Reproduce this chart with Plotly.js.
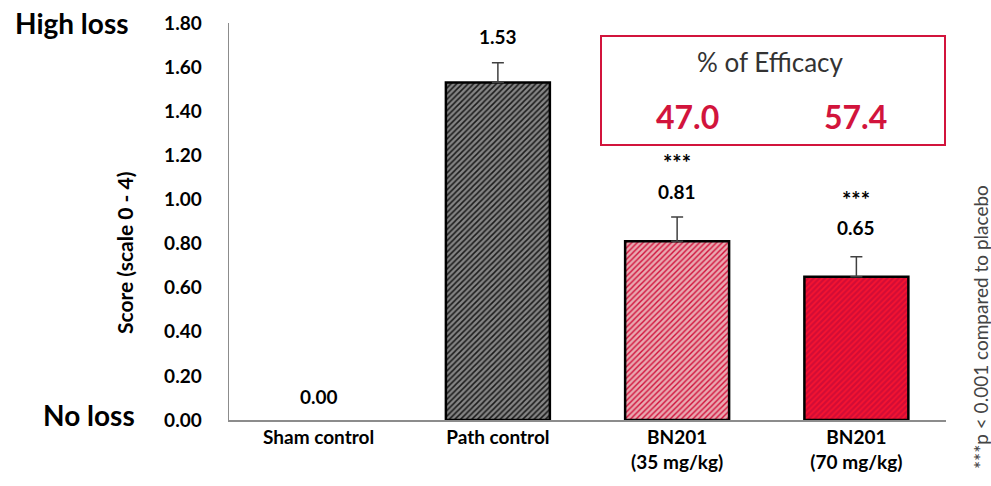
<!DOCTYPE html>
<html><head><meta charset="utf-8">
<script src="https://cdn.plot.ly/plotly-3.0.1.min.js"></script>
<style>body{margin:0;background:#fff}#c{width:991px;height:486px}</style>
</head><body><div id="c"></div>
<script>
const categories = ["Sham control", "Path control", "BN201<br>(35 mg/kg)", "BN201<br>(70 mg/kg)"];
const scores = [0.00, 1.53, 0.81, 0.65];
const errors = [0.00, 0.09, 0.11, 0.09];
const valueLabels = ["0.00", "1.53", "0.81", "0.65"];
const signif = ["", "", "***", "***"];
const efficacy = ["47.0", "57.4"];
const yTicks = [0, 0.2, 0.4, 0.6, 0.8, 1.0, 1.2, 1.4, 1.6, 1.8];
const yTitle = "Score (scale 0 - 4)";

const bgColors = ["#ffffff", "#858585", "#e9a8b0", "#d20c36"];
const fgColors = ["#000000", "#1a1a1a", "#d0103a", "#f81430"];
const solidity = [0.4, 0.38, 0.35, 0.4];
const outlineW = [0, 2.5, 2.5, 2.5];

const font = "Lato, 'Open Sans', sans-serif";

const traces = categories.map((c, i) => ({
  type: "bar",
  x: [c],
  y: [scores[i]],
  width: 0.58,
  marker: {
    color: bgColors[i],
    line: {color: "#000", width: outlineW[i]},
    pattern: {shape: "/", fillmode: "replace", bgcolor: bgColors[i], fgcolor: fgColors[i], size: 4, solidity: solidity[i]}
  },
  error_y: {type: "data", array: [errors[i]], arrayminus: [0], symmetric: false, visible: errors[i] > 0,
            color: "#404040", thickness: 1.5, width: 6},
  hoverinfo: "none"
}));

const annotations = [];
categories.forEach((c, i) => {
  const top = scores[i] + errors[i];
  annotations.push({x: c, y: top, xref: "x", yref: "y", text: "<b>" + valueLabels[i] + "</b>",
    showarrow: false, yanchor: "middle", yshift: 26 + (i === 3 ? 3 : 0) - (i === 0 ? 2 : 0),
    font: {family: font, size: 19, color: "#000"}});
  if (signif[i]) {
    annotations.push({x: c, y: top, xref: "x", yref: "y", text: "<b>" + signif[i] + "</b>",
      showarrow: false, yanchor: "middle", yshift: 55 + (i === 3 ? 2 : 0),
      font: {family: font, size: 22, color: "#000"}});
  }
});
const W = 991, H = 486, L = 229, R = 45, T = 23, B = 66;
function px(x) { return (x - L) / (W - L - R); }
function py(y) { return (H - B - y) / (H - T - B); }
const paperAnn = [
  {xp: 131, yp: 23, text: "<b>High loss</b>", size: 28},
  {xp: 137, yp: 415, text: "<b>No loss</b>", size: 28}
];
paperAnn.forEach(a => annotations.push({x: px(a.xp), y: py(a.yp), xref: "paper", yref: "paper",
  text: a.text, showarrow: false, xanchor: "right", yanchor: "middle",
  font: {family: font, size: a.size, color: "#000"}}));
annotations.push({x: px(125), y: py(253), xref: "paper", yref: "paper", text: "<b>" + yTitle + "</b>",
  showarrow: false, textangle: -90, xanchor: "center", yanchor: "middle", font: {family: font, size: 21, color: "#000"}});
annotations.push({x: px(770), y: py(62), xref: "paper", yref: "paper", text: "% of Efficacy",
  showarrow: false, xanchor: "center", yanchor: "middle", font: {family: font, size: 26, color: "#333"}});
annotations.push({x: px(687), y: py(117), xref: "paper", yref: "paper", text: "<b>" + efficacy[0] + "</b>",
  showarrow: false, xanchor: "center", yanchor: "middle", font: {family: font, size: 32, color: "#d2143c"}});
annotations.push({x: px(855), y: py(117), xref: "paper", yref: "paper", text: "<b>" + efficacy[1] + "</b>",
  showarrow: false, xanchor: "center", yanchor: "middle", font: {family: font, size: 32, color: "#d2143c"}});
annotations.push({x: px(980), y: py(327), xref: "paper", yref: "paper", text: "***p < 0.001 compared to placebo",
  showarrow: false, textangle: -90, xanchor: "center", yanchor: "middle", font: {family: font, size: 19, color: "#444"}});

const layout = {
  width: W, height: H,
  margin: {l: L, r: R, t: T, b: B},
  paper_bgcolor: "#fff", plot_bgcolor: "#fff",
  showlegend: false,
  barmode: "overlay",
  xaxis: {type: "category", categoryorder: "array", categoryarray: categories,
    showline: true, linecolor: "#8c8c8c", linewidth: 1.5, ticks: "",
    showgrid: false, tickfont: {family: font, size: 19, color: "#000", weight: "bold"}, fixedrange: true},
  yaxis: {range: [0, 1.8], tickvals: yTicks, ticktext: yTicks.map(v => v.toFixed(2)),
    showline: true, linecolor: "#8c8c8c", linewidth: 1.5, ticks: "", showgrid: false, zeroline: false,
    tickfont: {family: font, size: 19, color: "#000", weight: "bold"}, ticklabelstandoff: 22},
  shapes: [{type: "rect", xref: "paper", yref: "paper", x0: px(601), x1: px(945), y0: py(145), y1: py(36),
    line: {color: "#d2143c", width: 2}, fillcolor: "rgba(0,0,0,0)"}],
  annotations: annotations
};

Plotly.newPlot("c", traces, layout, {staticPlot: true});
</script></body></html>
